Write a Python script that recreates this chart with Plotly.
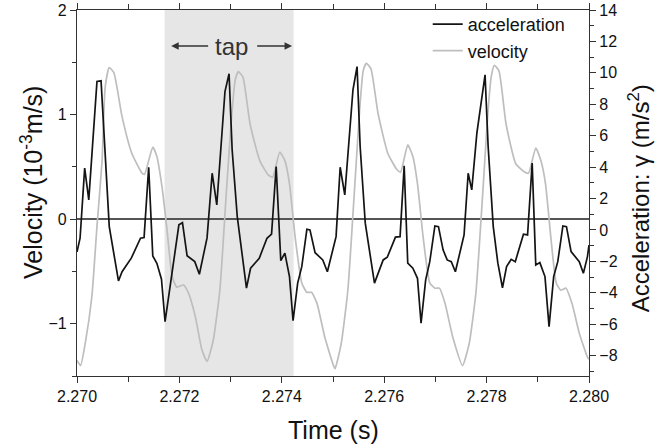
import plotly.graph_objects as go

# ---------------- data ----------------
accel_t = [2.27000, 2.27006, 2.27015, 2.27023, 2.27039, 2.27047, 2.27063, 2.27081, 2.27088, 2.27106,
           2.27124, 2.27131, 2.27140, 2.27148, 2.27156, 2.27165, 2.27172, 2.27189, 2.27199, 2.27206,
           2.27215, 2.27230, 2.27239, 2.27254, 2.27264, 2.27273, 2.27289, 2.27297, 2.27303, 2.27313,
           2.27331, 2.27339, 2.27356, 2.27371, 2.27380, 2.27389, 2.27398, 2.27406, 2.27415, 2.27422,
           2.27431, 2.27439, 2.27449, 2.27455, 2.27465, 2.27480, 2.27489, 2.27506, 2.27514, 2.27523,
           2.27539, 2.27547, 2.27553, 2.27563, 2.27581, 2.27598, 2.27606, 2.27622, 2.27631, 2.27639,
           2.27646, 2.27656, 2.27665, 2.27672, 2.27681, 2.27689, 2.27699, 2.27706, 2.27715, 2.27723,
           2.27731, 2.27739, 2.27756, 2.27764, 2.27771, 2.27781, 2.27789, 2.27797, 2.27803, 2.27813,
           2.27822, 2.27831, 2.27839, 2.27848, 2.27856, 2.27872, 2.27880, 2.27889, 2.27896, 2.27904,
           2.27914, 2.27922, 2.27931, 2.27939, 2.27949, 2.27956, 2.27965, 2.27973, 2.27981, 2.27989,
           2.27997, 2.28000]
acceleration = [-1.4, -0.53, 3.93, 1.91, 9.45, 9.49, 0.21, -3.25, -2.66, -1.80,
                -0.53, -0.49, 3.99, -1.66, -2.12, -3.14, -5.84, -1.91, 0.32, 0.46,
                -1.64, -2.02, -2.82, -0.51, 3.61, 1.59, 8.81, 9.94, 5.10, 0.85,
                -3.71, -2.44, -1.80, -0.53, -0.27, 4.03, -1.96, -1.48, -2.97, -5.78,
                -3.39, -2.34, 0.04, 0.0, -1.45, -1.91, -2.66, -0.43, 3.99, 2.23,
                8.92, 10.40, 5.31, 0.43, -3.39, -1.91, -1.74, -0.46, -0.43, 4.08,
                -2.12, -2.44, -3.08, -5.94, -3.18, -2.02, 0.25, 0.21, -1.27, -1.91,
                -2.02, -2.66, -0.32, 3.61, 2.55, 6.16, 7.96, 9.87, 5.31, 0.21,
                -2.12, -3.68, -2.34, -1.87, -2.02, -0.27, -0.32, 4.25, -2.23, -2.08,
                -2.97, -6.16, -2.97, -2.02, 0.25, 0.21, -1.38, -1.70, -2.02, -2.76,
                -1.70, -0.96]

vel_t = [2.27000, 2.27007, 2.27016, 2.27029, 2.27039, 2.27049, 2.27055, 2.27063, 2.27072, 2.27088,
         2.27107, 2.27127, 2.27132, 2.27148, 2.27156, 2.27166, 2.27176, 2.27186, 2.27195, 2.27208,
         2.27218, 2.27231, 2.27244, 2.27254, 2.27266, 2.27279, 2.27292, 2.27302, 2.27309, 2.27315,
         2.27324, 2.27338, 2.27357, 2.27374, 2.27382, 2.27396, 2.27406, 2.27415, 2.27426, 2.27439,
         2.27449, 2.27458, 2.27469, 2.27484, 2.27501, 2.27504, 2.27516, 2.27529, 2.27542, 2.27552,
         2.27559, 2.27565, 2.27574, 2.27588, 2.27607, 2.27624, 2.27632, 2.27646, 2.27656, 2.27665,
         2.27676, 2.27689, 2.27699, 2.27708, 2.27719, 2.27734, 2.27753, 2.27766, 2.27779, 2.27792,
         2.27802, 2.27809, 2.27815, 2.27824, 2.27838, 2.27857, 2.27874, 2.27882, 2.27896, 2.27906,
         2.27915, 2.27926, 2.27936, 2.27945, 2.27955, 2.27967, 2.27981, 2.27997, 2.28000]
velocity = [-1.35, -1.40, -1.19, -0.74, -0.07, 0.56, 1.26, 1.45, 1.40, 0.98,
            0.63, 0.44, 0.43, 0.69, 0.60, 0.31, -0.11, -0.55, -0.65, -0.63,
            -0.71, -0.93, -1.25, -1.36, -1.16, -0.68, 0.28, 0.98, 1.33, 1.41,
            1.36, 0.91, 0.56, 0.42, 0.40, 0.64, 0.56, 0.34, -0.17, -0.61,
            -0.70, -0.70, -0.81, -1.13, -1.40, -1.43, -1.19, -0.68, 0.28, 1.04,
            1.42, 1.49, 1.44, 1.01, 0.63, 0.48, 0.45, 0.71, 0.60, 0.34,
            -0.17, -0.61, -0.66, -0.66, -0.81, -1.13, -1.40, -1.19, -0.71, 0.21,
            0.98, 1.36, 1.47, 1.42, 0.91, 0.53, 0.45, 0.44, 0.68, 0.56,
            0.34, -0.20, -0.61, -0.68, -0.66, -0.81, -1.09, -1.32, -1.34]

tap_start = 2.27171
tap_end = 2.27423

x_range = [2.270, 2.280]
vel_range = [-1.5, 2.0]
acc_range = [-9.3, 14.0]

FONT = "Arial, Liberation Sans, sans-serif"
AX = "#333333"

fig = go.Figure()
fig.add_trace(go.Scatter(x=accel_t, y=acceleration, name="acceleration", mode="lines",
                         line=dict(color="#141414", width=1.7), yaxis="y2"))
fig.add_trace(go.Scatter(x=vel_t, y=velocity, name="velocity", mode="lines",
                         line=dict(color="#bebebe", width=1.7, shape="spline", smoothing=0.5),
                         yaxis="y"))

fig.add_shape(type="rect", xref="x", yref="paper", x0=tap_start, x1=tap_end, y0=0, y1=1,
              fillcolor="#e6e6e6", line=dict(width=0), layer="below")

# tap label and arrows
tap_y = 1.655
tap_mid = 2.273027
fig.add_annotation(x=tap_mid, y=tap_y, xref="x", yref="y", text="tap", showarrow=False,
                   font=dict(family=FONT, size=24, color="#333333"))
fig.add_annotation(x=2.27184, y=tap_y, ax=2.27260, ay=tap_y, xref="x", yref="y",
                   axref="x", ayref="y", text=" ", showarrow=True, arrowhead=2,
                   arrowsize=1, arrowwidth=1.5, arrowcolor="#333333",
                   font=dict(family=FONT, size=2))
fig.add_annotation(x=2.27420, y=tap_y, ax=2.27348, ay=tap_y, xref="x", yref="y",
                   axref="x", ayref="y", text=" ", showarrow=True, arrowhead=2,
                   arrowsize=1, arrowwidth=1.5, arrowcolor="#333333",
                   font=dict(family=FONT, size=2))

# axis titles
fig.add_annotation(x=-0.088, y=0.53, xref="paper", yref="paper", textangle=-90,
                   text="Velocity (10<sup>-3</sup>m/s)", showarrow=False,
                   xanchor="center", yanchor="middle",
                   font=dict(family=FONT, size=25, color="#111111"))
fig.add_annotation(x=1.098, y=0.486, xref="paper", yref="paper", textangle=-90,
                   text="Acceleration: γ (m/s<sup>2</sup>)", showarrow=False,
                   xanchor="center", yanchor="middle",
                   font=dict(family=FONT, size=24, color="#111111"))
fig.add_annotation(x=0.5, y=-0.1475, xref="paper", yref="paper",
                   text="Time (s)", showarrow=False, xanchor="center", yanchor="middle",
                   font=dict(family=FONT, size=25, color="#111111"))

tickfont = dict(family=FONT, size=16, color="#111111")

fig.update_layout(
    width=658, height=448,
    margin=dict(l=77, r=69, t=10, b=72, autoexpand=False),
    paper_bgcolor="white", plot_bgcolor="white",
    showlegend=True,
    legend=dict(x=0.685, y=1.011, xanchor="left", yanchor="top", bgcolor="rgba(0,0,0,0)",
                font=dict(family=FONT, size=18, color="#111111"), tracegroupgap=0),
    xaxis=dict(range=x_range, tickformat=".3f", dtick=0.002, tick0=2.270, automargin=False,
               ticks="outside", ticklen=6, tickcolor=AX, tickwidth=1.2,
               showline=True, linecolor=AX, linewidth=1.3, mirror="ticks",
               showgrid=False, zeroline=False, tickfont=tickfont,
               minor=dict(dtick=0.001, tick0=2.270, ticks="outside", ticklen=5,
                          tickcolor=AX, tickwidth=1.2, showgrid=False)),
    yaxis=dict(range=vel_range, dtick=1, tick0=0, ticks="outside", ticklen=6, automargin=False,
               tickcolor=AX, tickwidth=1.2, showline=True, linecolor=AX, linewidth=1.3,
               showgrid=False, zeroline=True, zerolinecolor="#555555", zerolinewidth=1.5,
               tickfont=tickfont,
               minor=dict(dtick=0.5, tick0=0, ticks="outside", ticklen=4,
                          tickcolor=AX, tickwidth=1.2, showgrid=False)),
    yaxis2=dict(range=acc_range, dtick=2, tick0=0, overlaying="y", side="right",
                automargin=False,
                ticks="outside", ticklen=6, tickcolor=AX, tickwidth=1.2,
                showline=True, linecolor=AX, linewidth=1.3, showgrid=False,
                zeroline=False, tickfont=tickfont,
                minor=dict(dtick=1, tick0=0, ticks="outside", ticklen=4,
                           tickcolor=AX, tickwidth=1.2, showgrid=False)),
)

fig.write_html("out.html")
